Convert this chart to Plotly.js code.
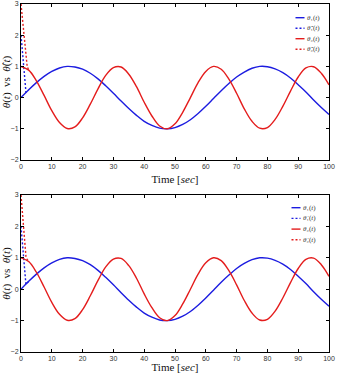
<!DOCTYPE html>
<html>
<head>
<meta charset="utf-8">
<script src="https://cdn.plot.ly/plotly-3.0.1.min.js"></script>
<style>
  html, body { margin: 0; padding: 0; background: #fff; }
  #chart { width: 337px; height: 373px; }
</style>
</head>
<body>
<div id="chart"></div>
<script>
// Sample times [sec]
const time = [0, 2.5, 5, 7.5, 10, 12.5, 15, 17.5, 20, 22.5, 25, 27.5, 30, 32.5, 35, 37.5, 40,
  42.5, 45, 47.5, 50, 52.5, 55, 57.5, 60, 62.5, 65, 67.5, 70, 72.5, 75, 77.5, 80, 82.5, 85,
  87.5, 90, 92.5, 95, 97.5, 100];

// Joint angles
const theta1 = [0, 0.25, 0.48, 0.68, 0.84, 0.95, 1.0, 0.98, 0.91, 0.78, 0.60, 0.38, 0.14,
  -0.11, -0.35, -0.57, -0.76, -0.89, -0.98, -1.0, -0.96, -0.86, -0.71, -0.51, -0.28, -0.03,
  0.22, 0.45, 0.66, 0.82, 0.94, 1.0, 0.99, 0.92, 0.80, 0.63, 0.41, 0.18, -0.08, -0.32, -0.54];
const theta2 = [1.0, 0.88, 0.54, 0.07, -0.42, -0.80, -0.99, -0.94, -0.65, -0.21, 0.28, 0.71,
  0.96, 0.98, 0.75, 0.35, -0.15, -0.59, -0.91, -1.0, -0.84, -0.47, 0.0, 0.48, 0.84, 1.0,
  0.91, 0.59, 0.14, -0.36, -0.76, -0.98, -0.96, -0.70, -0.28, 0.21, 0.66, 0.95, 0.99, 0.78, 0.41];

// Estimates during the initial transient (top panel)
const estTime = [0, 0.4, 0.8, 1.2, 1.6, 2.0, 2.5];
const estTheta1Top = [2.0, 1.55, 1.05, 0.6, 0.18, 0.2, 0.25];
const estTheta2Top = [3.0, 2.6, 2.2, 1.8, 1.4, 1.0, 0.88];
// Estimates during the initial transient (bottom panel)
const estTheta1Bot = [2.0, 1.5, 1.0, 0.55, 0.15, 0.2, 0.25];
const estTheta2Bot = [3.0, 2.5, 2.0, 1.5, 1.05, 0.95, 0.88];

const legendTop = ['<i>θ</i>₁(<i>t</i>)', '<i>θ̂</i>₁(<i>t</i>)', '<i>θ</i>₂(<i>t</i>)', '<i>θ̂</i>₂(<i>t</i>)'];
const legendBot = ['<i>θ</i>₁(<i>t</i>)', '<i>θ̇</i>₁(<i>t</i>)', '<i>θ</i>₂(<i>t</i>)', '<i>θ̇</i>₂(<i>t</i>)'];

const BLUE = '#1c1ce0';
const RED = '#e41c1c';
const COLORS = [BLUE, BLUE, RED, RED];
const DASHES = ['solid', '2px,2px', 'solid', '2px,2px'];

// Page geometry, used to place the compact key inside each panel
const W = 337, H = 373;
const M = { l: 21, r: 8, t: 4, b: 21 };
const px2x = (px) => (px - M.l) / (W - M.l - M.r);
const px2y = (py) => (H - M.b - py) / (H - M.t - M.b);

function panel(xa, ya, names, est1, est2) {
  const base = { type: 'scatter', mode: 'lines', xaxis: xa, yaxis: ya, showlegend: false };
  return [
    Object.assign({}, base, { x: time, y: theta1, name: names[0], line: { color: BLUE, width: 1.4, shape: 'spline' } }),
    Object.assign({}, base, { x: estTime, y: est1, name: names[1], line: { color: BLUE, width: 1.4, dash: '2px,2px' } }),
    Object.assign({}, base, { x: time, y: theta2, name: names[2], line: { color: RED, width: 1.4, shape: 'spline' } }),
    Object.assign({}, base, { x: estTime, y: est2, name: names[3], line: { color: RED, width: 1.4, dash: '2px,2px' } })
  ];
}

const data = [].concat(
  panel('x', 'y', legendTop, estTheta1Top, estTheta2Top),
  panel('x2', 'y2', legendBot, estTheta1Bot, estTheta2Bot)
);

// Compact key: short line sample followed by the label
const shapes = [];
const annotations = [];
function key(names, x0, y0, step) {
  names.forEach((n, i) => {
    const y = y0 + i * step;
    shapes.push({
      type: 'line', xref: 'paper', yref: 'paper',
      x0: px2x(x0), x1: px2x(x0 + 9), y0: px2y(y), y1: px2y(y),
      line: { color: COLORS[i], width: 1.4, dash: DASHES[i] }
    });
    annotations.push({
      xref: 'paper', yref: 'paper', x: px2x(x0 + 9.5), y: px2y(y),
      xanchor: 'left', yanchor: 'middle', showarrow: false,
      text: n, font: { family: 'Liberation Serif, serif', size: 7, color: '#333' }
    });
  });
}
key(legendTop, 295.5, 17.7, 10.5);
key(legendBot, 291.5, 207.7, 10.7);

const tickFont = { family: 'Liberation Sans, Arial, sans-serif', size: 7, color: '#333' };
const titleFont = { family: 'Liberation Serif, Times New Roman, serif', size: 11, color: '#111' };

function xAxis(anchor, standoff) {
  return {
    anchor: anchor, range: [0, 100], dtick: 10, tick0: 0,
    ticks: 'inside', ticklen: 3, tickcolor: '#000', mirror: 'ticks',
    showline: true, linecolor: '#000', linewidth: 1, showgrid: false, zeroline: false,
    tickfont: tickFont, automargin: false,
    title: { text: 'Time [<i>sec</i>]', font: titleFont, standoff: standoff }
  };
}
function yAxis(anchor, domain, title) {
  return {
    anchor: anchor, domain: domain, range: [-2, 3], dtick: 1, tick0: 0,
    ticks: 'inside', ticklen: 3, tickcolor: '#000', mirror: 'ticks',
    showline: true, linecolor: '#000', linewidth: 1, showgrid: false, zeroline: false,
    tickfont: tickFont, automargin: false,
    title: { text: title, font: titleFont, standoff: 2 }
  };
}

const layout = {
  width: W, height: H,
  margin: M,
  paper_bgcolor: '#fff', plot_bgcolor: '#fff',
  showlegend: false,
  xaxis: xAxis('y', 5),
  yaxis: yAxis('x', [0.5517, 1], '<i>θ</i>(<i>t</i>)  vs  <i>θ̂</i>(<i>t</i>)'),
  xaxis2: xAxis('y2', 2),
  yaxis2: yAxis('x2', [0, 0.4511], '<i>θ</i>(<i>t</i>)  vs  <i>θ̇</i>(<i>t</i>)'),
  shapes: shapes,
  annotations: annotations
};

Plotly.newPlot('chart', data, layout, { staticPlot: true, displayModeBar: false });
</script>
</body>
</html>
